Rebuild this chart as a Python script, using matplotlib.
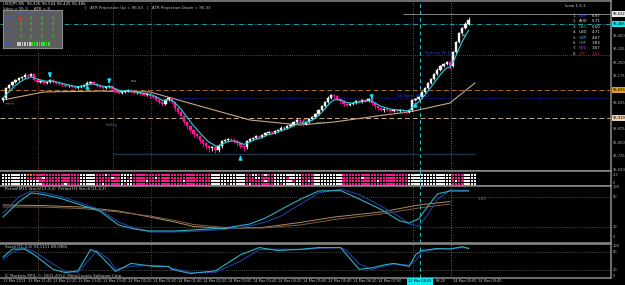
import numpy as np
import pandas as pd
import matplotlib
matplotlib.use('Agg')
import matplotlib.pyplot as plt
from matplotlib.patches import Rectangle
from matplotlib.transforms import blended_transform_factory

# ---------------- data (USDJPY, M5) ----------------
open0 = 96.040
close = [96.051, 96.107, 96.124, 96.141, 96.152, 96.163, 96.169, 96.180, 96.174, 96.186,
         96.152, 96.141, 96.146, 96.135, 96.141, 96.152, 96.141, 96.135, 96.130, 96.124,
         96.118, 96.118, 96.113, 96.107, 96.113, 96.118, 96.124, 96.135, 96.141, 96.130,
         96.118, 96.113, 96.107, 96.113, 96.118, 96.102, 96.085, 96.079, 96.085, 96.090,
         96.096, 96.085, 96.079, 96.079, 96.074, 96.068, 96.074, 96.062, 96.057, 96.040,
         96.029, 96.018, 96.040, 96.051, 96.029, 95.995, 95.973, 95.950, 95.917, 95.894,
         95.872, 95.850, 95.838, 95.816, 95.799, 95.782, 95.771, 95.777, 95.760, 95.782,
         95.810, 95.816, 95.822, 95.816, 95.810, 95.799, 95.782, 95.777, 95.810, 95.822,
         95.827, 95.838, 95.833, 95.844, 95.855, 95.861, 95.855, 95.866, 95.872, 95.883,
         95.883, 95.894, 95.900, 95.917, 95.928, 95.922, 95.906, 95.917, 95.934, 95.945,
         95.962, 95.984, 96.006, 96.029, 96.051, 96.068, 96.062, 96.046, 96.034, 96.018,
         96.012, 96.018, 96.023, 96.034, 96.029, 96.040, 96.034, 96.046, 96.023, 96.006,
         95.995, 95.984, 95.990, 95.984, 95.978, 95.984, 95.978, 95.984, 95.978, 95.973,
         95.984, 96.040, 96.046, 96.057, 96.085, 96.107, 96.135, 96.158, 96.186, 96.208,
         96.230, 96.242, 96.253, 96.230, 96.309, 96.365, 96.415, 96.443, 96.466, 96.488]
# wick lengths in points (0.001)
wick_up = [4, 6, 5, 8, 5, 7, 6, 9, 5, 8, 6, 4, 7, 5, 6, 8, 4, 5, 6, 4,
           5, 6, 4, 5, 7, 6, 8, 9, 6, 5, 4, 6, 5, 4, 7, 5, 4, 6, 5, 8,
           4, 5, 6, 4, 5, 4, 6, 5, 7, 5, 6, 5, 8, 6, 7, 5, 6, 4, 7, 5,
           6, 8, 5, 7, 6, 5, 8, 6, 7, 9, 8, 6, 7, 5, 9, 6, 7, 5, 8, 6,
           7, 6, 5, 8, 6, 7, 5, 6, 8, 9, 6, 7, 5, 8, 10, 6, 7, 5, 6, 8,
           6, 7, 8, 6, 9, 7, 6, 5, 7, 6, 5, 6, 4, 7, 5, 6, 5, 8, 6, 5,
           5, 4, 6, 5, 4, 6, 5, 7, 5, 6, 6, 8, 6, 7, 5, 6, 7, 8, 6, 9,
           7, 8, 6, 12, 6, 7, 8, 6, 9, 18]
wick_dn = [10, 5, 4, 6, 5, 4, 6, 5, 4, 6, 5, 6, 4, 5, 7, 5, 6, 4, 5, 6,
           6, 5, 7, 4, 5, 6, 5, 4, 6, 5, 5, 4, 6, 7, 5, 6, 8, 5, 6, 4,
           6, 5, 4, 7, 5, 6, 5, 9, 6, 8, 12, 9, 7, 8, 10, 15, 12, 14, 10, 16,
           14, 18, 12, 15, 20, 16, 22, 14, 18, 12, 10, 8, 9, 7, 12, 15, 13, 20, 9, 8,
           7, 6, 8, 5, 7, 6, 5, 8, 6, 7, 6, 5, 7, 6, 5, 9, 10, 6, 5, 7,
           5, 6, 7, 5, 6, 5, 8, 7, 9, 10, 8, 6, 7, 5, 6, 7, 5, 8, 9, 14,
           12, 8, 10, 6, 12, 7, 8, 6, 10, 9, 7, 6, 8, 5, 6, 7, 5, 6, 8, 6,
           5, 6, 5, 14, 6, 7, 5, 6, 7, 5]

# slow moving average (tan), sampled points (bar, price)
slow_ma_bar = [0, 13, 31, 47, 63, 79, 95, 106, 122, 130, 143, 151]
slow_ma = [96.040, 96.085, 96.090, 96.085, 96.006, 95.928, 95.900, 95.917, 95.956, 95.973, 96.023, 96.135]

# signal arrows (bar, tip price, direction)
arrows = [(15, 96.152, 'down'), (27, 96.141, 'up'), (34, 96.118, 'down'),
          (76, 95.743, 'up'), (118, 96.029, 'down'), (132, 96.040, 'up')]

price_ticks = [95.650, 95.725, 95.800, 95.875, 96.025, 96.175, 96.250, 96.325, 96.400]

time_labels = ['13 Mar 2013', '13 Mar 21:40', '13 Mar 22:20', '13 Mar 23:00', '13 Mar 23:40',
               '14 Mar 00:20', '14 Mar 01:00', '14 Mar 01:40', '14 Mar 02:20', '14 Mar 03:00',
               '14 Mar 03:40', '14 Mar 04:20', '14 Mar 05:00', '14 Mar 05:40', '14 Mar 06:20',
               '14 Mar 07:00', '', '08:20', '14 Mar 09:00', '14 Mar 09:40']

# strength grid: 0 white, 1 pink, 2 orange
grid_rows = [
    "00000000 22 111111111111111 00000 11101111 0000 11111111111 11111111111111 00000000000 110011011 000000000 1111 000000000 111111111111111111111 00000000000000 1111 0000",
    "00000000 11 111011111111111 00000 11111011 0010 11111110111 11111111111111 00000000000 111001111 000010000 1111 000000000 111111011111111111111 00000000000000 1111 0000",
    "00000000 00 001111111111111 00000 11111111 0000 11110111111 11111011111111 00000000000 111111011 000000100 1101 000000000 111111111110111111111 00000000000000 1011 0000",
    "00000000 00 000111111101111 00000 11011111 0100 11111111111 11111111111111 00000100000 101111111 001000000 1111 000000000 111111111111111111111 00000000000000 1111 0000",
]

# multi-timeframe stochastic (M15 main / signal, H1 main / signal)
mtf_bar = [0, 5, 9, 12, 18, 25, 31, 37, 42, 47, 55, 63, 71, 79, 84, 89, 95, 101, 108, 114, 121, 127, 130, 133, 136, 139, 143, 149]
m15_main = [40, 70, 88, 86, 78, 64, 52, 24, 16, 12, 12, 15, 18, 26, 38, 55, 75, 92, 93, 76, 55, 32, 28, 36, 62, 86, 92, 92]
m15_sig = [48, 80, 92, 90, 82, 68, 55, 30, 18, 10, 10, 12, 15, 22, 30, 42, 65, 88, 96, 85, 62, 40, 26, 22, 45, 75, 94, 93]
h1_bar = [0, 12, 25, 37, 47, 55, 61, 71, 83, 95, 106, 121, 133, 143]
h1_main = [64, 63, 60, 52, 40, 30, 21, 17, 19, 29, 40, 50, 64, 71]
h1_sig = [60, 60, 57, 50, 42, 33, 25, 19, 18, 24, 35, 46, 58, 66]

# stochastic (11,3,3)
st_bar = [0, 3, 7, 10, 16, 20, 24, 28, 30, 34, 36, 41, 48, 53, 54, 60, 68, 76, 82, 88,
          96, 101, 108, 110, 114, 118, 122, 125, 130, 132, 134, 139, 143, 147, 149]
st_main = [63, 90, 90, 71, 22, 11, 17, 88, 80, 37, 15, 42, 32, 32, 22, 8, 17, 71, 95, 85,
           90, 95, 95, 71, 22, 27, 37, 42, 32, 71, 85, 92, 90, 98, 92]
st_sig = [55, 80, 92, 82, 40, 15, 12, 60, 85, 55, 22, 32, 36, 30, 26, 12, 12, 50, 88, 90,
          88, 93, 95, 85, 40, 22, 32, 40, 36, 50, 80, 90, 92, 95, 93]

currencies = ['EUR', 'AUD', 'CAD', 'USD', 'GBP', 'CHF', 'NZD', 'JPY']
strength = [6.97, 5.71, 5.50, 4.71, 4.67, 3.83, 3.67, 3.25]
cur_colors = ['#3a5fff', '#e0e0e0', '#22c022', '#f0f0f0', '#1ec8d8', '#9a9a9a', '#a040d0', '#e02040']

# ---------------- drawing ----------------
W, H = 625, 285
PINK = '#ff1493'
WHITE = '#f4f4f4'
GRAY = '#b4b4b4'
FRAME = '#8c8c8c'
FS = 2.9
FSA = 2.6

fig = plt.figure(figsize=(W / 100, H / 100), dpi=100)
fig.patch.set_facecolor('black')


def px_box(x0, y0, x1, y1):
    return [x0 / W, 1 - y1 / H, (x1 - x0) / W, (y1 - y0) / H]


XL = ((0 - 3) / 3.125, (611 - 3) / 3.125)


def style_ax(ax):
    ax.set_facecolor('black')
    ax.set_xlim(*XL)
    ax.set_xticks([])
    ax.set_yticks([])
    for s in ax.spines.values():
        s.set_color(FRAME)
        s.set_linewidth(1.1)
    ax.spines['left'].set_visible(False)


def right_label(ax, y, txt, color=GRAY, bg=None):
    tr = blended_transform_factory(ax.transAxes, ax.transData)
    kw = {}
    if bg is not None:
        kw['bbox'] = dict(boxstyle='square,pad=0.2', facecolor=bg, edgecolor='none')
    ax.text(1.003, y, txt, transform=tr, fontsize=FSA, color=color, va='center', ha='left',
            clip_on=False, **kw)


def vlines_all(ax, ymin, ymax, main=False):
    ax.vlines([11.2], ymin, ymax, colors='#a0602a', linestyles=(0, (1, 2)), lw=0.6)
    if main:
        ax.vlines([35.2], ymin, ymax, colors='#a0602a', linestyles=(0, (1, 2)), lw=0.6)
    ax.vlines([47.4], ymin, ymax, colors='#9040d0', linestyles=(0, (1, 2)), lw=0.6)
    ax.vlines([131.2], ymin, ymax, colors='#1fa0a0', linestyles=(0, (1, 2)), lw=0.6)
    ax.vlines([133.4], ymin, ymax, colors='#1ec8d0', linestyles=(0, (4, 3)), lw=0.7)
    ax.vlines([143.4], ymin, ymax, colors='#9a9a9a', linestyles=(0, (1, 2)), lw=0.6)


# ---- main price panel ----
ax = fig.add_axes(px_box(0, 1, 611, 171))
style_ax(ax)
ylo, yhi = 95.6424, 96.5944
ax.set_ylim(ylo, yhi)
vlines_all(ax, ylo, yhi, main=True)

# horizontal levels
ax.axhline(96.466, color='#1fb8c0', lw=0.6, ls=(0, (6, 2, 1, 2)))
ax.hlines(96.522, 128, 195, color='#9a9a9a', lw=0.6)
ax.axhline(96.292, color='#8a8a8a', lw=0.5, ls=(0, (1, 2)))
ax.axhline(96.096, color='#b0702a', lw=0.7, ls=(0, (5, 3)))
ax.hlines(96.051, 47, 195, color='#2030c0', lw=0.6, ls=(0, (1, 1.5)))
ax.axhline(95.939, color='#c8aa88', lw=0.7, ls=(0, (5, 3)))
ax.hlines(95.738, 35.2, 151, color='#1a3a4a', lw=0.9)

# candles
opens = [open0] + close[:-1]
for i, (o, c) in enumerate(zip(opens, close)):
    col = WHITE if c >= o else PINK
    hi = max(o, c) + wick_up[i] * 0.001
    lo = min(o, c) - wick_dn[i] * 0.001
    ax.vlines(i, lo, hi, color=col, lw=0.6, zorder=3)
    hgt = max(abs(c - o), 0.0015)
    ax.bar(i, hgt, bottom=min(o, c), width=0.72, color=col, edgecolor=col, lw=0.3, zorder=4)

bars = np.arange(len(close))
fast_ma = pd.Series(close).ewm(span=5, adjust=False).mean()
ax.plot(bars, fast_ma, color='#20d8e0', lw=0.8, zorder=5)
ax.plot(slow_ma_bar, slow_ma, color='#c8a888', lw=0.8, zorder=2)

for b, p, d in arrows:
    off = 0.038 if d == 'down' else -0.038
    ax.annotate('', xy=(b, p), xytext=(b, p + off),
                arrowprops=dict(arrowstyle='-|>', color='#00eaff', lw=1.1, mutation_scale=4.5),
                zorder=6)

for p in price_ticks:
    right_label(ax, p, '%.3f' % p)
right_label(ax, 96.522, '96.522', color='black', bg='#e8e8e8')
right_label(ax, 96.466, '96.466', color='black', bg='#10e8f0')
right_label(ax, 96.096, '96.096', color='black', bg='#e0a020')
right_label(ax, 95.939, '95.939', color='black', bg='#e8d0b0')

# text labels on the chart
ax.text(147.5, 96.40, 'R1', color='#d0d0d0', fontsize=FS, ha='center', va='center')
ax.text(135, 96.290, 'Sydney 96.163', color='#2a40ff', fontsize=FS, va='bottom')
ax.text(126, 96.052, '14 Open 96.042', color='#2a40ff', fontsize=FS, va='bottom')
ax.text(0.5, 96.020, '+++', color='#b0b0b0', fontsize=FS, va='center')
ax.text(41, 96.145, 'sss', color='#b0b0b0', fontsize=FS, va='center')
ax.text(33, 95.900, 'holley', color='#5a7a9a', fontsize=FS, va='center')
ax.text(100, 95.910, '+++', color='#b0b0b0', fontsize=FS, va='center')
ax.text(96, 95.925, 'PP', color='#b0b0b0', fontsize=FS, va='center')

# info text along the top
fig.text(3 / W, 1 - 3.5 / H, 'USDJPY,M5  96.425 96.504 96.425 96.486', color='#d8d8d8',
         fontsize=FS, va='center')
fig.text(3 / W, 1 - 8.5 / H, 'Sdev = 95.3     ATR = 8', color='#c0c0c0', fontsize=FS, va='center')
fig.text(85 / W, 1 - 8.5 / H, '|   ATR Projection Up = 96.63   |   ATR Projection Down = 95.33',
         color='#c0c0c0', fontsize=FS, va='center')

# signal table box (top left)
tb = fig.add_axes(px_box(3, 10, 62, 48))
tb.set_xlim(3, 62)
tb.set_ylim(48, 10)
tb.set_xticks([])
tb.set_yticks([])
tb.set_facecolor('#5c5c5c')
for s in tb.spines.values():
    s.set_color('#8a8a8a')
    s.set_linewidth(0.8)
cols_x = [20, 30, 41, 52]
for x, t in zip(cols_x, ['M5', 'M15', 'H1', 'H4']):
    tb.text(x, 13, t, color='#3a5cff', fontsize=2.8, ha='center', va='center')
rows_y = [18, 24.5, 31, 37.5]
for y, t in zip(rows_y, ['Trd', 'CCI', 'RS', 'Osc']):
    tb.text(5, y, t, color='#3a5cff', fontsize=2.8, va='center')
    for j, x in enumerate(cols_x):
        if t == 'Trd' and j == 0:
            tb.plot(x, y, 'o', color='#ff2020', ms=1.6)
        else:
            tb.text(x, y, '↑', color='#20e020', fontsize=3.6, ha='center', va='center',
                    fontweight='bold')
tb.text(5, 44, 'ADX', color='#3a5cff', fontsize=2.8, va='center')
for k in range(14):
    c = '#c8c8c8' if k < 6 else '#30e030'
    tb.add_patch(Rectangle((17 + k * 2.4, 42), 1.6, 4, color=c, lw=0))

# currency strength (top right)
fig.text(565 / W, 1 - 6 / H, 'Ivow 1.6.1', color='#d0d0d0', fontsize=FS, va='center')
for k, (cur, val, col) in enumerate(zip(currencies, strength, cur_colors)):
    y = 16 + k * 5.4
    fig.text(573 / W, 1 - y / H, '%d.' % (k + 1), color='#c8c8c8', fontsize=FS, va='center')
    fig.text(579 / W, 1 - y / H, cur, color=col, fontsize=FS, va='center')
    fig.text(592 / W, 1 - y / H, '%.2f' % val, color='#e02040' if cur == 'JPY' else '#e0e0e0',
             fontsize=FS, va='center')

# ---- strength grid panel ----
ag = fig.add_axes(px_box(0, 171, 611, 186))
style_ax(ag)
ag.set_ylim(15, 0)
cell_colors = [WHITE, PINK, '#ff7010']
row_tops = [2.6, 5.6, 8.6, 11.6]
for r, row in enumerate(grid_rows):
    vals = [int(ch) for ch in row.replace(' ', '')]
    ag.bar(np.arange(len(vals)), 2.4, bottom=row_tops[r], width=0.78,
           color=[cell_colors[v] for v in vals], lw=0)
vlines_all(ag, 0, 15)
right_label(ag, 3.5, '2.3')
right_label(ag, 12, '0')

# ---- MTF stochastic panel ----
am = fig.add_axes(px_box(0, 186, 611, 243))
style_ax(am)
am.set_ylim(-12, 102)
vlines_all(am, -12, 102)
am.axhline(80, color='#8a8a8a', lw=0.5, ls=(0, (1, 2)))
am.axhline(20, color='#8a8a8a', lw=0.5, ls=(0, (1, 2)))
am.plot(h1_bar, h1_main, color='#b08a60', lw=0.7)
am.plot(h1_bar, h1_sig, color='#806040', lw=0.7)
am.plot(mtf_bar, m15_sig, color='#2040a0', lw=0.8)
am.plot(mtf_bar, m15_main, color='#30b0c0', lw=0.8)
am.text(0.5, 96, 'Period M15 Stoch(11,3,3)  Period H1 Stoch(11,3,3)', color='#c8c8c8',
        fontsize=FS, va='center')
am.text(152, 76, '1:05', color='#30b0c0', fontsize=FS, va='center')
for v in [100, 80, 20, 0]:
    right_label(am, v, str(v))

# ---- stochastic panel ----
ast = fig.add_axes(px_box(0, 244, 611, 278))
style_ax(ast)
ast.set_ylim(-7, 107)
vlines_all(ast, -7, 107)
ast.axhline(80, color='#8a8a8a', lw=0.5, ls=(0, (1, 2)))
ast.axhline(20, color='#8a8a8a', lw=0.5, ls=(0, (1, 2)))
ast.plot(st_bar, st_sig, color='#2040a0', lw=0.8)
ast.plot(st_bar, st_main, color='#30b0c0', lw=0.8)
ast.text(0.5, 98, 'Stoch(11,3,3) 91.1111 88.0965', color='#c8c8c8', fontsize=FS, va='center')
ast.text(0.5, 1, 'IC Markets MT4, \u00a9 2001-2012, MetaQuotes Software Corp.', color='#c8c8c8',
         fontsize=FS, va='center')
for v in [100, 80, 20, 0]:
    right_label(ast, v, str(v))

# time axis labels
trx = blended_transform_factory(ast.transData, fig.transFigure)
for k, t in enumerate(time_labels):
    if not t:
        continue
    xk = 8 * k + (2.6 if t == '08:20' else 0)
    ast.text(xk, 1 - 281.5 / H, t, transform=trx, color='#c8c8c8', fontsize=2.55,
             ha='left', va='center', clip_on=False)
ast.text(133.4, 1 - 281.5 / H, '14 Mar 08:05', transform=trx, color='black', fontsize=2.55,
         ha='center', va='center', clip_on=False, zorder=10,
         bbox=dict(boxstyle='square,pad=0.3', facecolor='#10e8f0', edgecolor='none'))

fig.savefig('out.png', dpi=100, facecolor='black')
